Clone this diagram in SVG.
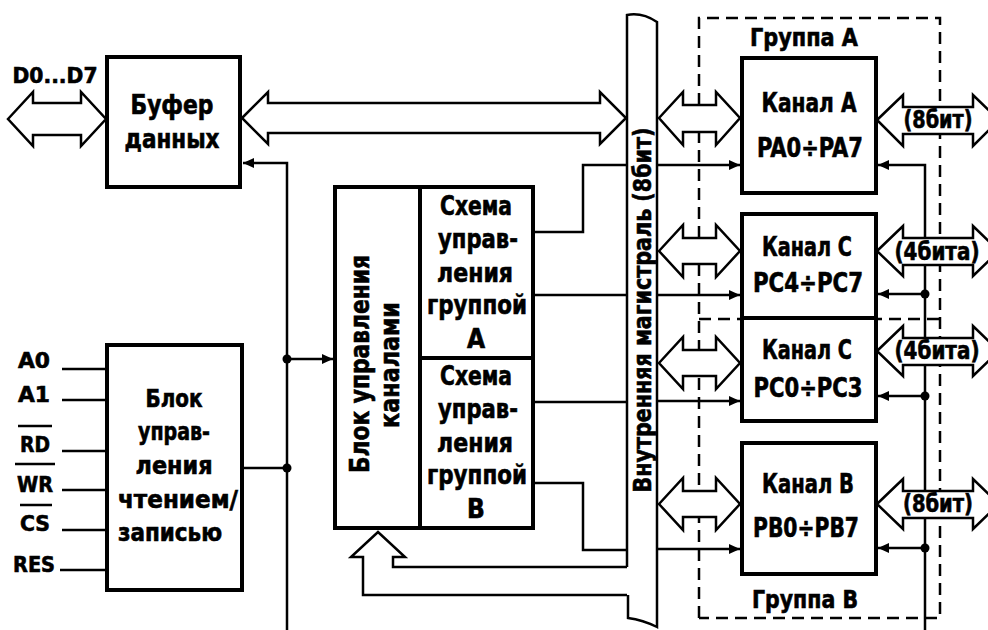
<svg xmlns="http://www.w3.org/2000/svg" width="988" height="630" viewBox="0 0 988 630">
<defs>
<marker id="ah" markerWidth="11" markerHeight="10" refX="11" refY="5" orient="auto" markerUnits="userSpaceOnUse"><path d="M0,0 L11,5 L0,10 Z" fill="#000"/></marker>
<style>
.t{font-family:'DejaVu Sans Condensed','DejaVu Sans','Liberation Sans',sans-serif;font-weight:bold;fill:#000;stroke:#000;stroke-width:0.6;text-anchor:middle;font-stretch:condensed}
.box{fill:#fff;stroke:#000;stroke-width:4}
.ln{fill:none;stroke:#000;stroke-width:2.5}
.arr{fill:none;stroke:#000;stroke-width:2.5;marker-end:url(#ah)}
.dbl{fill:#fff;stroke:#000;stroke-width:2.5;stroke-linejoin:miter}
.dash{fill:none;stroke:#000;stroke-width:2.5;stroke-dasharray:12 7}
.dot{fill:#000}
</style>
</defs>
<rect width="988" height="630" fill="#fff"/>

<g id="groups">
<path class="dash" d="M699,618 V18 H940 V618 H699"/>
<path class="dash" d="M699,319 H940"/>
</g>

<g id="connectors">
<path class="arr" d="M287,630 V163 H243"/>
<path class="arr" d="M287,359 H333"/>
<path class="ln" d="M242,468 H287"/>
<circle class="dot" cx="287" cy="359" r="4.5"/>
<circle class="dot" cx="287" cy="468" r="4.5"/>
<path class="ln" d="M62,369 H107 M62,400 H107 M62,451 H107 M62,490 H107 M62,530 H107 M60,570 H107"/>
<path class="ln" d="M535,232 H583 V165 H627"/>
<path class="ln" d="M535,295 H627"/>
<path class="ln" d="M535,402 H627"/>
<path class="ln" d="M535,483 H583 V550 H627"/>
<path class="arr" d="M657,165 H740"/>
<path class="arr" d="M657,295 H740"/>
<path class="arr" d="M657,401 H740"/>
<path class="arr" d="M657,549 H740"/>
<path class="arr" d="M925,630 V165 H878"/>
<path class="arr" d="M925,294 H878"/>
<path class="arr" d="M925,396 H878"/>
<path class="arr" d="M925,548 H878"/>
<circle class="dot" cx="925" cy="294" r="4.5"/>
<circle class="dot" cx="925" cy="396" r="4.5"/>
<circle class="dot" cx="925" cy="548" r="4.5"/>
<path class="ln" d="M627,567 H393 V557 H405 L378,532 L351,557 H363 V595 H627"/>
<path class="dbl" d="M8,119 L33,92 V103 H81 V92 L106,119 L81,146 V135 H33 V146 Z"/>
<path class="dbl" d="M242,118 L268,92 V103 H600 V92 L626,118 L600,144 V133 H268 V144 Z"/>
<path class="dbl" d="M659,118 L683,92 V105 H716 V92 L740,118 L716,145 V132 H683 V145 Z"/>
<path class="dbl" d="M659,251 L683,225 V238 H716 V225 L740,251 L716,277 V264 H683 V277 Z"/>
<path class="dbl" d="M659,363 L683,337 V350 H716 V337 L740,363 L716,389 V376 H683 V389 Z"/>
<path class="dbl" d="M659,504 L683,478 V491 H716 V478 L740,504 L716,530 V517 H683 V530 Z"/>
<path class="dbl" d="M877,120 L903,95 V107 H973 V95 L999,120 L973,146 V134 H903 V146 Z"/>
<path class="dbl" d="M877,251 L903,226 V238 H973 V226 L999,251 L973,276 V265 H903 V276 Z"/>
<path class="dbl" d="M877,351 L903,326 V338 H973 V326 L999,351 L973,376 V365 H903 V376 Z"/>
<path class="dbl" d="M877,504 L903,479 V491 H973 V479 L999,504 L973,529 V518 H903 V529 Z"/>
</g>

<g id="bus">
<path d="M627,15 Q642,12 657,22 L657,627 Q643,620 628,618 L627,15 Z" fill="#fff"/>
<path class="ln" d="M627,567 V15 Q642,12 657,22 V627 Q643,620 628,618 V595"/>
<text class="t" font-size="25" transform="translate(651,310) rotate(-90)" textLength="365" lengthAdjust="spacingAndGlyphs">Внутренняя магистраль (8бит)</text>
</g>

<g id="d-label">
<text class="t" x="55" y="83" font-size="22" textLength="85" lengthAdjust="spacingAndGlyphs">D0...D7</text>
</g>

<g id="buffer">
<rect class="box" x="107" y="57" width="133" height="130"/>
<text class="t" x="172" y="114" font-size="26" textLength="83" lengthAdjust="spacingAndGlyphs">Буфер</text>
<text class="t" x="172" y="148" font-size="26" textLength="95" lengthAdjust="spacingAndGlyphs">данных</text>
</g>

<g id="rw-block">
<rect class="box" x="107" y="345" width="135" height="245"/>
<text class="t" x="174" y="407" font-size="24" textLength="57" lengthAdjust="spacingAndGlyphs">Блок</text>
<text class="t" x="174" y="440" font-size="24" textLength="72" lengthAdjust="spacingAndGlyphs">управ-</text>
<text class="t" x="174" y="474" font-size="24" textLength="77" lengthAdjust="spacingAndGlyphs">ления</text>
<text class="t" x="178" y="508" font-size="24" textLength="120" lengthAdjust="spacingAndGlyphs">чтением/</text>
<text class="t" x="170" y="541" font-size="24" textLength="104" lengthAdjust="spacingAndGlyphs">записью</text>
</g>

<g id="inputs">
<text class="t" x="34" y="368" font-size="22" textLength="32" lengthAdjust="spacingAndGlyphs">A0</text>
<text class="t" x="34" y="402" font-size="22" textLength="32" lengthAdjust="spacingAndGlyphs">A1</text>
<text class="t" x="35" y="452" font-size="22" textLength="30" lengthAdjust="spacingAndGlyphs">RD</text>
<text class="t" x="35" y="492" font-size="22" textLength="36" lengthAdjust="spacingAndGlyphs">WR</text>
<text class="t" x="35" y="531" font-size="22" textLength="30" lengthAdjust="spacingAndGlyphs">CS</text>
<text class="t" x="34" y="572" font-size="22" textLength="42" lengthAdjust="spacingAndGlyphs">RES</text>
<path class="ln" d="M18,426 H52 M15,464 H55 M20,505 H52"/>
</g>

<g id="channel-control">
<rect class="box" x="335" y="187" width="198" height="341"/>
<path class="ln" d="M420,187 V528" style="stroke-width:4"/>
<path class="ln" d="M420,358 H533" style="stroke-width:4"/>
<text class="t" font-size="26" transform="translate(369,364) rotate(-90)" textLength="218" lengthAdjust="spacingAndGlyphs">Блок управления</text>
<text class="t" font-size="26" transform="translate(399,365) rotate(-90)" textLength="126" lengthAdjust="spacingAndGlyphs">каналами</text>
</g>

<g id="group-a-control">
<text class="t" x="476" y="215" font-size="26" textLength="72" lengthAdjust="spacingAndGlyphs">Схема</text>
<text class="t" x="478" y="248" font-size="26" textLength="80" lengthAdjust="spacingAndGlyphs">управ-</text>
<text class="t" x="475" y="282" font-size="26" textLength="76" lengthAdjust="spacingAndGlyphs">ления</text>
<text class="t" x="477" y="314" font-size="26" textLength="100" lengthAdjust="spacingAndGlyphs">группой</text>
<text class="t" x="476" y="348" font-size="26">А</text>
</g>

<g id="group-b-control">
<text class="t" x="476" y="385" font-size="26" textLength="72" lengthAdjust="spacingAndGlyphs">Схема</text>
<text class="t" x="478" y="418" font-size="26" textLength="80" lengthAdjust="spacingAndGlyphs">управ-</text>
<text class="t" x="475" y="452" font-size="26" textLength="76" lengthAdjust="spacingAndGlyphs">ления</text>
<text class="t" x="477" y="484" font-size="26" textLength="100" lengthAdjust="spacingAndGlyphs">группой</text>
<text class="t" x="476" y="518" font-size="26">В</text>
</g>

<g id="channel-a">
<rect class="box" x="742" y="58" width="134" height="135"/>
<text class="t" x="809" y="112" font-size="27" textLength="95" lengthAdjust="spacingAndGlyphs">Канал А</text>
<text class="t" x="810" y="157" font-size="27" textLength="106" lengthAdjust="spacingAndGlyphs">PA0÷PA7</text>
</g>

<g id="channel-c-high">
<rect class="box" x="742" y="214" width="134" height="104"/>
<text class="t" x="807" y="256" font-size="27" textLength="90" lengthAdjust="spacingAndGlyphs">Канал С</text>
<text class="t" x="808" y="292" font-size="27" textLength="110" lengthAdjust="spacingAndGlyphs">PC4÷PC7</text>
</g>

<g id="channel-c-low">
<rect class="box" x="742" y="318" width="134" height="103"/>
<text class="t" x="807" y="359" font-size="27" textLength="90" lengthAdjust="spacingAndGlyphs">Канал С</text>
<text class="t" x="808" y="397" font-size="27" textLength="109" lengthAdjust="spacingAndGlyphs">PC0÷PC3</text>
</g>

<g id="channel-b">
<rect class="box" x="742" y="443" width="134" height="131"/>
<text class="t" x="808" y="493" font-size="27" textLength="92" lengthAdjust="spacingAndGlyphs">Канал В</text>
<text class="t" x="806" y="537" font-size="27" textLength="106" lengthAdjust="spacingAndGlyphs">PB0÷PB7</text>
</g>

<g id="group-labels">
<text class="t" x="804" y="46" font-size="25" textLength="108" lengthAdjust="spacingAndGlyphs">Группа А</text>
<text class="t" x="805" y="608" font-size="25" textLength="106" lengthAdjust="spacingAndGlyphs">Группа В</text>
</g>

<g id="port-labels">
<text class="t" x="938" y="128" font-size="24" textLength="69" lengthAdjust="spacingAndGlyphs">(8бит)</text>
<text class="t" x="937" y="260" font-size="24" textLength="85" lengthAdjust="spacingAndGlyphs">(4бита)</text>
<text class="t" x="937" y="359" font-size="24" textLength="85" lengthAdjust="spacingAndGlyphs">(4бита)</text>
<text class="t" x="938" y="512" font-size="24" textLength="70" lengthAdjust="spacingAndGlyphs">(8бит)</text>
</g>
</svg>
